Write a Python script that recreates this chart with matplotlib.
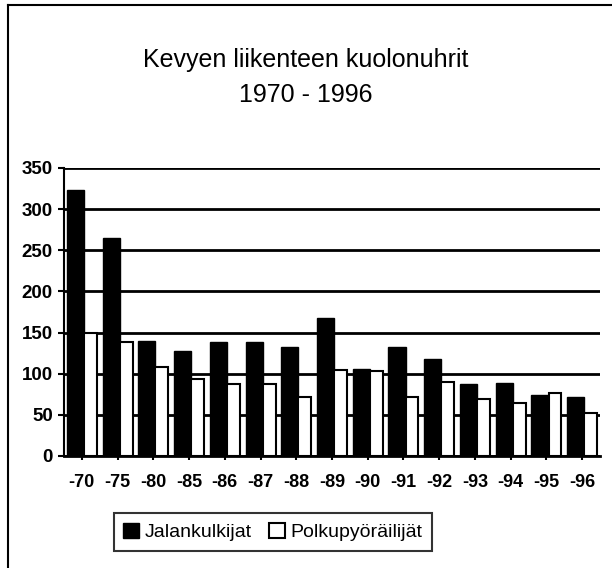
import matplotlib.pyplot as plt
import numpy as np
from matplotlib.lines import Line2D
from matplotlib.patches import Patch

years = ["-70", "-75", "-80", "-85", "-86", "-87", "-88", "-89",
         "-90", "-91", "-92", "-93", "-94", "-95", "-96"]
jalankulkijat = [323, 265, 140, 127, 138, 138, 132, 168, 106, 132, 118, 88, 89, 74, 72]
polkupyorailijat = [150, 139, 108, 94, 87, 88, 72, 105, 103, 72, 90, 69, 65, 76, 52]

plt.rcParams['font.family'] = ['Liberation Sans', 'DejaVu Sans']

fig = plt.figure(figsize=(6.12, 5.68), dpi=100)
W, H = 612, 568

# outer frame (top and left edges visible)
fig.add_artist(Line2D([8 / W, 8 / W], [0, 1 - 5 / H], color='black', lw=1.5))
fig.add_artist(Line2D([8 / W, 1], [1 - 5 / H, 1 - 5 / H], color='black', lw=1.5))

ax = fig.add_axes([64 / W, 1 - 456 / H, 536 / W, 288 / H])

x = np.arange(len(years))
ax.bar(x - 0.42, jalankulkijat, width=0.48, align='edge', color='black',
       edgecolor='black', lw=1, zorder=3)
ax.bar(x + 0.06, polkupyorailijat, width=0.36, align='edge', color='white',
       edgecolor='black', lw=1.5, zorder=3)

ax.set_xlim(-0.5, len(years) - 0.5)
ax.set_ylim(0, 350)
ax.set_yticks(range(0, 351, 50))
ax.grid(axis='y', color='black', lw=2, zorder=1)
ax.set_xticks(x)
ax.set_xticklabels(years, fontsize=13, fontweight='bold')
for lbl in ax.get_yticklabels():
    lbl.set_fontweight('bold')
    lbl.set_fontsize(13.5)
ax.tick_params(axis='x', length=3, width=1.5, pad=10, direction='out')
ax.tick_params(axis='y', length=4, width=1.5, pad=4)
for s in ['top', 'right']:
    ax.spines[s].set_visible(False)
ax.spines['left'].set_linewidth(1.5)
ax.spines['bottom'].set_linewidth(2)

fig.text(0.5, 1 - 60 / H, "Kevyen liikenteen kuolonuhrit", ha='center',
         va='center', fontsize=18)
fig.text(0.5, 1 - 95 / H, "1970 - 1996", ha='center', va='center', fontsize=18)

handles = [Patch(facecolor='black', edgecolor='black'),
           Patch(facecolor='white', edgecolor='black', lw=1.5)]
leg = fig.legend(handles, ["Jalankulkijat", "Polkupyöräilijät"], ncol=2,
                 loc='center', bbox_to_anchor=(273 / W, 1 - 532 / H),
                 fontsize=14, frameon=True, fancybox=False, edgecolor='black',
                 handlelength=0.8, handleheight=0.8, columnspacing=0.9,
                 handletextpad=0.3, borderpad=0.5, borderaxespad=0,
                 handler_map=None)
leg.get_frame().set_linewidth(1.5)

fig.savefig("out.png", dpi=100)
